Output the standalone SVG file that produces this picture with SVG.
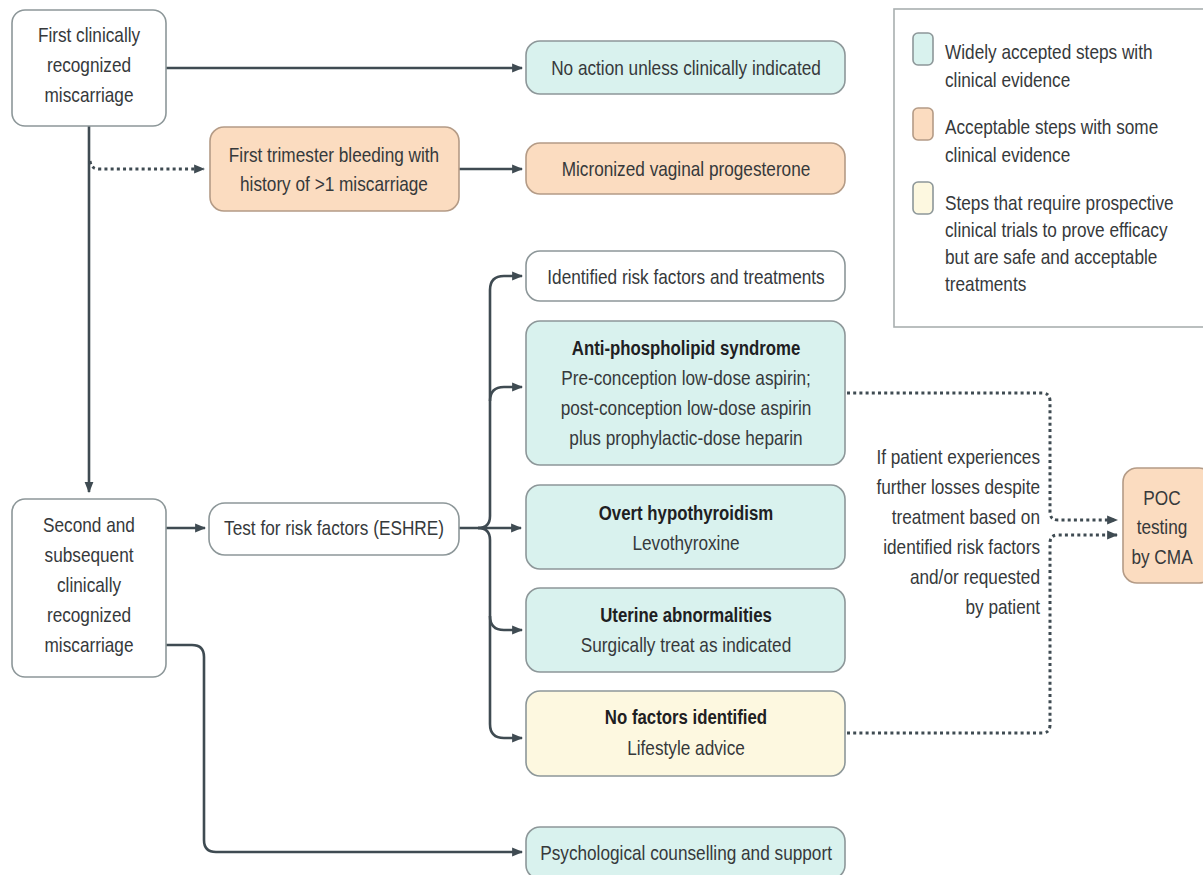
<svg xmlns="http://www.w3.org/2000/svg" width="1203" height="875" viewBox="0 0 1203 875">
<defs>
<style>
text{font-family:"Liberation Sans",Arial,sans-serif;font-size:21px;fill:#36393b;text-anchor:middle;transform-box:fill-box;transform-origin:center;transform:scaleX(0.82)}
.b{font-weight:bold;fill:#1e2022;transform:scaleX(0.8)}
.r{text-anchor:end;transform-origin:right center}
.l{text-anchor:start;transform-origin:left center}
.box{stroke:#8d9799;stroke-width:1.6}
.w{fill:#ffffff}
.t{fill:#d9f2ee}
.o{fill:#fbdcc0;stroke:#b49b86}
.y{fill:#fdf8e0}
.c{fill:none;stroke:#3f4b52;stroke-width:2.6}
.d{fill:none;stroke:#3f4b52;stroke-width:3;stroke-dasharray:3 3.2}
</style>
<marker id="ah" viewBox="0 0 10 10" refX="9" refY="5" markerWidth="11" markerHeight="11" markerUnits="userSpaceOnUse" orient="auto">
<path d="M0,1 L10,5 L0,9 z" fill="#3f4b52"/>
</marker>
</defs>
<rect width="1203" height="875" fill="#ffffff"/>

<g id="connectors">
<path class="c" d="M166,68 H522" marker-end="url(#ah)"/>
<path class="c" d="M89,126 V492" marker-end="url(#ah)"/>
<path class="d" d="M90,161 Q91,169 99,169 H204" marker-end="url(#ah)"/>
<path class="c" d="M459,169 H522" marker-end="url(#ah)"/>
<path class="c" d="M166,528 H205" marker-end="url(#ah)"/>
<path class="c" d="M459,528 H521" marker-end="url(#ah)"/>
<path class="c" d="M478,528 Q490,528 490,516 V290 Q490,276 504,276 H522" marker-end="url(#ah)"/>
<path class="c" d="M490,401 Q490,387 504,387 H522" marker-end="url(#ah)"/>
<path class="c" d="M478,528 Q490,528 490,540 V724 Q490,738 504,738 H522" marker-end="url(#ah)"/>
<path class="c" d="M490,616 Q490,630 504,630 H522" marker-end="url(#ah)"/>
<path class="c" d="M166,645 H192 Q204,645 204,657 V840 Q204,852 216,852 H522" marker-end="url(#ah)"/>
<path class="d" d="M847,393 H1042 Q1050,393 1050,401 V512 Q1050,520 1058,520 H1117" marker-end="url(#ah)"/>
<path class="d" d="M847,733 H1042 Q1050,733 1050,725 V543 Q1050,535 1058,535 H1117" marker-end="url(#ah)"/>
</g>

<g id="first">
<rect class="box w" x="12" y="10" width="154" height="116" rx="13"/>
<text x="89" y="42">First clinically</text>
<text x="89" y="72">recognized</text>
<text x="89" y="102">miscarriage</text>
</g>

<g id="noaction">
<rect class="box t" x="526" y="41" width="319" height="53" rx="14"/>
<text x="686" y="75">No action unless clinically indicated</text>
</g>

<g id="bleeding">
<rect class="box o" x="210" y="127" width="249" height="84" rx="14"/>
<text x="334" y="162">First trimester bleeding with</text>
<text x="334" y="191">history of &gt;1 miscarriage</text>
</g>

<g id="progesterone">
<rect class="box o" x="526" y="143" width="319" height="51" rx="14"/>
<text x="686" y="176">Micronized vaginal progesterone</text>
</g>

<g id="legend">
<rect x="894" y="9" width="320" height="318" fill="#ffffff" stroke="#a9afb0" stroke-width="1.6"/>
<rect class="box t" x="913" y="33" width="20" height="32" rx="5"/>
<text class="l" x="945" y="59">Widely accepted steps with</text>
<text class="l" x="945" y="87">clinical evidence</text>
<rect class="box o" x="913" y="108" width="20" height="32" rx="5"/>
<text class="l" x="945" y="134">Acceptable steps with some</text>
<text class="l" x="945" y="162">clinical evidence</text>
<rect class="box y" x="913" y="182" width="20" height="32" rx="5"/>
<text class="l" x="945" y="210">Steps that require prospective</text>
<text class="l" x="945" y="237">clinical trials to prove efficacy</text>
<text class="l" x="945" y="264">but are safe and acceptable</text>
<text class="l" x="945" y="291">treatments</text>
</g>

<g id="identified">
<rect class="box w" x="526" y="251" width="319" height="50" rx="14"/>
<text x="686" y="284">Identified risk factors and treatments</text>
</g>

<g id="aps">
<rect class="box t" x="526" y="321" width="319" height="144" rx="14"/>
<text class="b" x="686" y="355">Anti-phospholipid syndrome</text>
<text x="686" y="385">Pre-conception low-dose aspirin;</text>
<text x="686" y="415">post-conception low-dose aspirin</text>
<text x="686" y="445">plus prophylactic-dose heparin</text>
</g>

<g id="second">
<rect class="box w" x="12" y="499" width="154" height="178" rx="13"/>
<text x="89" y="532">Second and</text>
<text x="89" y="562">subsequent</text>
<text x="89" y="592">clinically</text>
<text x="89" y="622">recognized</text>
<text x="89" y="652">miscarriage</text>
</g>

<g id="test">
<rect class="box w" x="209" y="503" width="250" height="52" rx="16"/>
<text x="334" y="535">Test for risk factors (ESHRE)</text>
</g>

<g id="thyroid">
<rect class="box t" x="526" y="485" width="319" height="84" rx="14"/>
<text class="b" x="686" y="520">Overt hypothyroidism</text>
<text x="686" y="550">Levothyroxine</text>
</g>

<g id="uterine">
<rect class="box t" x="526" y="588" width="319" height="84" rx="14"/>
<text class="b" x="686" y="622">Uterine abnormalities</text>
<text x="686" y="652">Surgically treat as indicated</text>
</g>

<g id="nofactors">
<rect class="box y" x="526" y="691" width="319" height="85" rx="14"/>
<text class="b" x="686" y="724">No factors identified</text>
<text x="686" y="755">Lifestyle advice</text>
</g>

<g id="psych">
<rect class="box t" x="526" y="827" width="319" height="52" rx="14"/>
<text x="686" y="860">Psychological counselling and support</text>
</g>

<g id="condition">
<text class="r" x="1040" y="464">If patient experiences</text>
<text class="r" x="1040" y="494">further losses despite</text>
<text class="r" x="1040" y="524">treatment based on</text>
<text class="r" x="1040" y="554">identified risk factors</text>
<text class="r" x="1040" y="584">and/or requested</text>
<text class="r" x="1040" y="614">by patient</text>
</g>

<g id="poc">
<rect class="box o" x="1123" y="468" width="90" height="115" rx="14"/>
<text x="1162" y="505">POC</text>
<text x="1162" y="534">testing</text>
<text x="1162" y="564">by CMA</text>
</g>
</svg>
